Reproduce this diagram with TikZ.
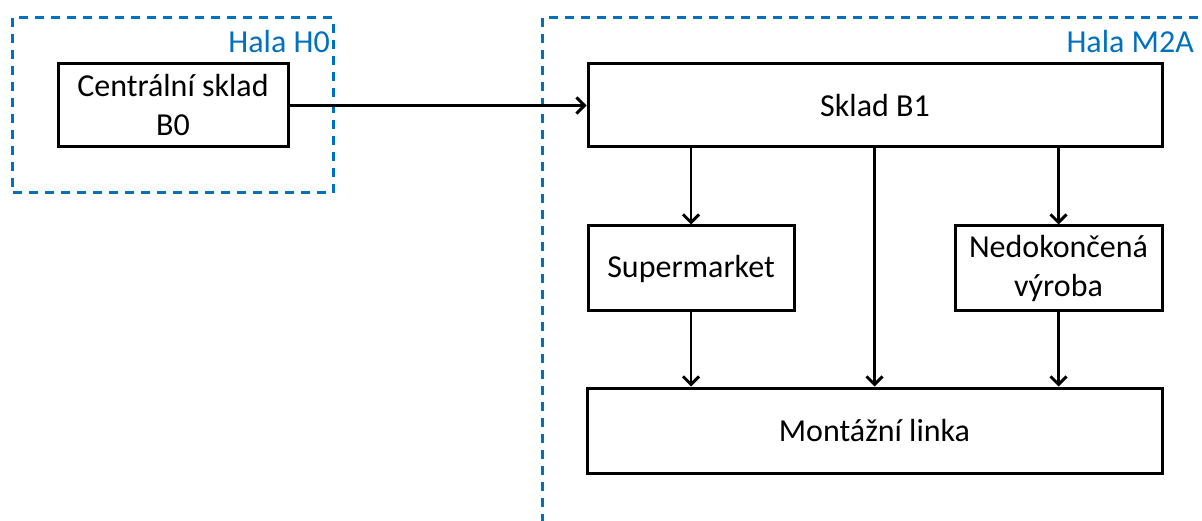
\documentclass[tikz,border=0pt]{standalone}
\usepackage{fontspec}
\setmainfont{Carlito}
\usetikzlibrary{arrows.meta}
\definecolor{halablue}{RGB}{0,112,192}
\tikzset{
  box/.style={draw=black, line width=3pt, rectangle, inner sep=0pt, align=center,
    font=\fontsize{32}{39}\selectfont},
  flow/.style={draw=black, line width=2.9pt, -{Straight Barb[length=8pt,width=16pt,line width=2.9pt]}},
  hala/.style={draw=halablue, line width=3pt, dash pattern=on 9pt off 7pt},
  halalabel/.style={text=halablue, font=\fontsize{32}{39}\selectfont, inner sep=0pt, anchor=base east}
}
\begin{document}
\begin{tikzpicture}[x=1pt,y=-1pt]
\useasboundingbox (0,0) rectangle (1202,521);
\clip (0,0) rectangle (1202,521);
% hall regions
\draw[hala] (12,18) rectangle (333,193);
\draw[hala] (1230,18) -- (542,18) -- (542,560);
\node[halalabel] (lh0) at (330,53) {Hala H0};
\node[halalabel] (lm2a) at (1194,53) {Hala M2A};
% boxes
\node[box, minimum width=230pt, minimum height=83pt] (b0) at (173,105.5) {Centrální sklad\\B0};
\node[box, minimum width=574pt, minimum height=83pt] (b1) at (875,105.5) {Sklad B1};
\node[box, minimum width=206pt, minimum height=85pt] (sm) at (691,268.5) {Supermarket};
\node[box, minimum width=207pt, minimum height=85pt] (nv) at (1058.5,268.5) {Nedokončená\\výroba};
\node[box, minimum width=575pt, minimum height=85pt] (ml) at (874.5,430.5) {Montážní linka};
% connectors
\draw[flow] (b0.east) -- (b1.west);
\draw[flow] (b1.south -| sm.north) -- (sm.north);
\draw[flow] (b1.south -| nv.north) -- (nv.north);
\draw[flow] (b1.south -| ml.north) -- (ml.north);
\draw[flow] (sm.south) -- (sm.south |- ml.north);
\draw[flow] (nv.south) -- (nv.south |- ml.north);
\end{tikzpicture}
\end{document}
